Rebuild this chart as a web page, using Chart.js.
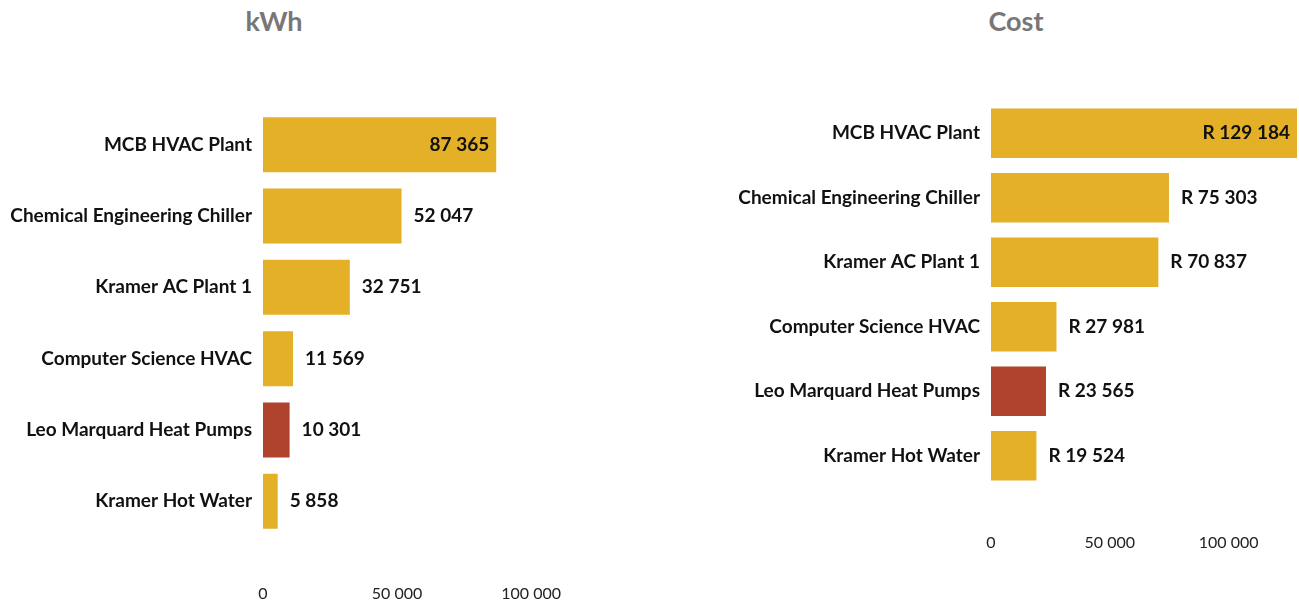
<!DOCTYPE html>
<html>
<head>
    <title>kWh and Cost</title>
    <meta charset="UTF-8">
    <script src="https://cdn.jsdelivr.net/npm/chart.js@4.4.1/dist/chart.umd.min.js"></script>
    <style>
        body { margin: 0; background: #fff; font-family: Lato, sans-serif; }
        .wrap { position: relative; width: 1299px; height: 606px; }
        .title { position: absolute; top: 4px; font-weight: bold; font-size: 27px; color: #777; transform: translateX(-50%); }
        #kwhBox { position: absolute; left: 0; top: 0; width: 600px; height: 606px; }
        #costBox { position: absolute; left: 733px; top: 0; width: 566px; height: 606px; }
    </style>
</head>
<body>
<div class="wrap">
    <div class="title" style="left:274px">kWh</div>
    <div class="title" style="left:1016px">Cost</div>
    <div id="kwhBox"><canvas id="kwhChart"></canvas></div>
    <div id="costBox"><canvas id="costChart"></canvas></div>
</div>

<script>
    const plants = ['MCB HVAC Plant', 'Chemical Engineering Chiller', 'Kramer AC Plant 1',
        'Computer Science HVAC', 'Leo Marquard Heat Pumps', 'Kramer Hot Water'];
    const kwh = [87365, 52047, 32751, 11569, 10301, 5858];
    const costPlants = ['MCB HVAC Plant', 'Chemical Engineering Chiller', 'Kramer AC Plant 1',
        'Computer Science HVAC', 'Leo Marquard Heat Pumps', 'Kramer Hot Water'];
    const cost = [129184, 75303, 70837, 27981, 23565, 19524];
    const xTicks = [0, 50000, 100000];
    const highlight = 'Leo Marquard Heat Pumps';

    const GOLD = '#E3B027';
    const RED = '#B0432D';

    function fmt(v) {
        return String(Math.round(v)).replace(/\B(?=(\d{3})+(?!\d))/g, ' ');
    }

    // draws the value next to (or inside) each bar
    const valueLabels = {
        id: 'valueLabels',
        afterDatasetsDraw(chart, args, opts) {
            const ctx = chart.ctx;
            const meta = chart.getDatasetMeta(0);
            const data = chart.data.datasets[0].data;
            const max = Math.max(...data);
            ctx.save();
            ctx.font = 'bold 19px Lato';
            ctx.fillStyle = '#111';
            ctx.textBaseline = 'middle';
            meta.data.forEach((bar, i) => {
                const txt = opts.prefix + fmt(data[i]);
                if (data[i] === max) {
                    ctx.textAlign = 'right';
                    ctx.fillText(txt, bar.x - 8, bar.y);
                } else {
                    ctx.textAlign = 'left';
                    ctx.fillText(txt, bar.x + 11, bar.y);
                }
            });
            ctx.restore();
        }
    };

    function makeChart(id, labels, values, opt) {
        const colors = labels.map(l => l === highlight ? RED : GOLD);
        return new Chart(document.getElementById(id), {
            type: 'bar',
            data: {
                labels: labels,
                datasets: [{
                    data: values,
                    backgroundColor: colors,
                    borderColor: 'rgba(255,255,255,0.35)',
                    borderWidth: 1,
                    barPercentage: 0.8,
                    categoryPercentage: 1,
                    clip: false
                }]
            },
            options: {
                indexAxis: 'y',
                responsive: true,
                maintainAspectRatio: false,
                animation: false,
                layout: { padding: { top: opt.top, bottom: opt.bottom, right: 0, left: 0 } },
                plugins: {
                    legend: { display: false },
                    tooltip: { enabled: false },
                    valueLabels: { prefix: opt.prefix }
                },
                scales: {
                    x: {
                        min: 0,
                        max: opt.max,
                        grid: { display: false, drawTicks: false },
                        border: { display: false },
                        afterBuildTicks: axis => {
                            axis.ticks = xTicks.map(v => ({ value: v }));
                        },
                        afterFit: axis => {
                            axis.height = opt.tickPad + 20;
                            axis.paddingLeft = 0;
                            axis.paddingRight = 0;
                        },
                        ticks: {
                            autoSkip: false,
                            padding: opt.tickPad,
                            color: '#222',
                            font: { family: 'Lato', size: 16 },
                            maxRotation: 0,
                            callback: v => fmt(v)
                        }
                    },
                    y: {
                        grid: { display: false, drawTicks: false },
                        border: { display: false },
                        afterFit: axis => { axis.width = opt.axisWidth; },
                        ticks: {
                            padding: 11,
                            color: '#111',
                            font: { family: 'Lato', size: 19, weight: 'bold' }
                        }
                    }
                }
            },
            plugins: [valueLabels]
        });
    }

    makeChart('kwhChart', plants, kwh,
        { top: 109, bottom: 2, max: 125700, tickPad: 47, axisWidth: 263, prefix: '' });
    makeChart('costChart', costPlants, cost,
        { top: 101, bottom: 53, max: 129600, tickPad: 45, axisWidth: 258, prefix: 'R ' });
</script>
</body>
</html>
